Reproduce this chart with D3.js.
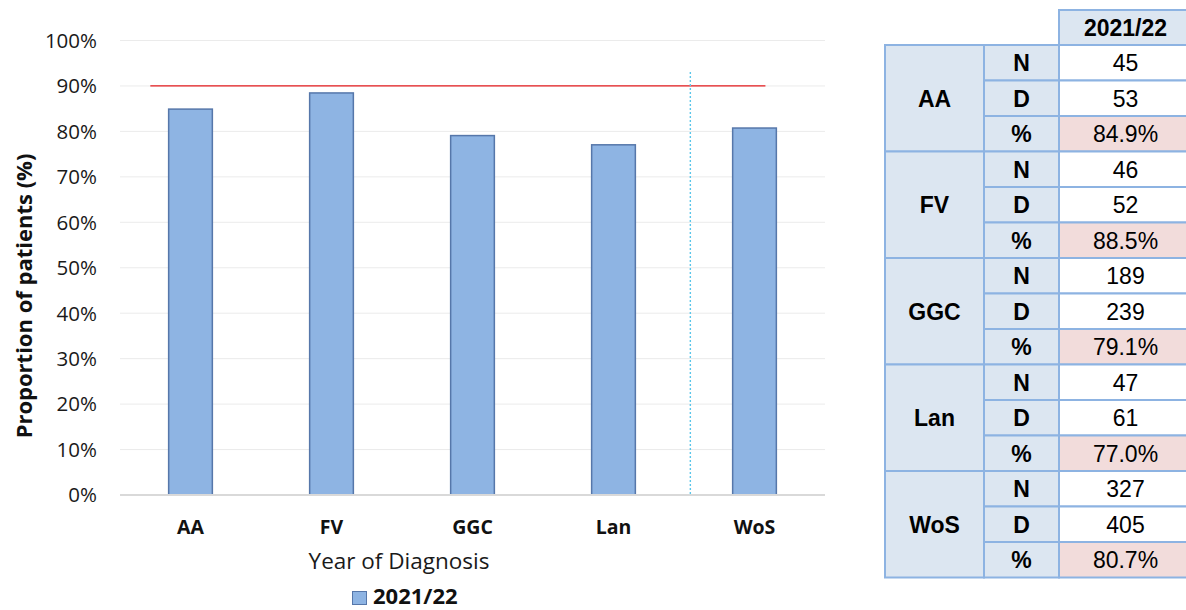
<!DOCTYPE html>
<html>
<head>
<meta charset="utf-8">
<script src="https://cdn.jsdelivr.net/npm/d3@7"></script>
<style>
  html, body { margin: 0; padding: 0; background: #fff; }
  svg { display: block; }
</style>
</head>
<body>
<svg id="chart" width="1186" height="610"></svg>
<script>
// Health boards and their numerator / denominator counts for 2021/22
const boards = ["AA", "FV", "GGC", "Lan", "WoS"];
const numerators = [45, 46, 189, 47, 327];
const denominators = [53, 52, 239, 61, 405];
const seriesName = "2021/22";
const target = 0.9;
const yTicks = [0, 0.1, 0.2, 0.3, 0.4, 0.5, 0.6, 0.7, 0.8, 0.9, 1.0];

const proportions = numerators.map((n, i) => n / denominators[i]);

const svg = d3.select("#chart");
const chartFont = "'Open Sans', sans-serif";
const tableFont = "'Liberation Sans', Arial, sans-serif";

// ---- bar chart ----
const x = d3.scaleBand().domain(boards).range([120, 825]).paddingInner(0.69).paddingOuter(0.345);
const y = d3.scaleLinear().domain([0, 1]).range([495, 40.5]);

// gridlines
svg.append("g").selectAll("line").data(yTicks.filter(t => t > 0)).join("line")
  .attr("x1", 120).attr("x2", 825)
  .attr("y1", d => y(d)).attr("y2", d => y(d))
  .attr("stroke", "#ebebeb").attr("stroke-width", 1);

// y tick labels
svg.append("g").selectAll("text").data(yTicks).join("text")
  .attr("x", 97).attr("y", d => y(d)).attr("dy", "0.36em")
  .attr("text-anchor", "end")
  .attr("font-family", chartFont).attr("font-size", 20.5).attr("fill", "#1a1a1a")
  .text(d => d3.format(".0%")(d));

// bars
svg.append("g").selectAll("rect").data(boards).join("rect")
  .attr("x", d => x(d)).attr("width", x.bandwidth())
  .attr("y", (d, i) => y(proportions[i]))
  .attr("height", (d, i) => y(0) - y(proportions[i]))
  .attr("fill", "#8eb4e3").attr("stroke", "#5677aa").attr("stroke-width", 1.5);

// baseline
svg.append("line")
  .attr("x1", 120).attr("x2", 825).attr("y1", y(0)).attr("y2", y(0))
  .attr("stroke", "#d9d9d9").attr("stroke-width", 2);

// target line
const step = x.step();
svg.append("line")
  .attr("x1", x(boards[0]) - step * 0.13).attr("x2", x(boards[4]) + x.bandwidth() * 0.75)
  .attr("y1", y(target)).attr("y2", y(target))
  .attr("stroke", "#e41a1c").attr("stroke-width", 1.3);

// separator between boards and the regional total
const sepX = x(boards[4]) - step * 0.3;
svg.append("line")
  .attr("x1", sepX).attr("x2", sepX).attr("y1", 72).attr("y2", y(0))
  .attr("stroke", "#5bc6ea").attr("stroke-width", 1.4).attr("stroke-dasharray", "2,2");

// category labels
svg.append("g").selectAll("text").data(boards).join("text")
  .attr("x", d => x(d) + x.bandwidth() / 2).attr("y", 534)
  .attr("text-anchor", "middle")
  .attr("font-family", chartFont).attr("font-size", 19.5).attr("font-weight", "bold").attr("fill", "#111")
  .text(d => d);

// axis titles
svg.append("text")
  .attr("transform", "translate(32,296) rotate(-90)")
  .attr("text-anchor", "middle")
  .attr("font-family", chartFont).attr("font-size", 22).attr("font-weight", "bold").attr("fill", "#111")
  .text("Proportion of patients (%)");

svg.append("text")
  .attr("x", 399).attr("y", 569).attr("text-anchor", "middle")
  .attr("font-family", chartFont).attr("font-size", 22.5).attr("fill", "#1a1a1a")
  .text("Year of Diagnosis");

// legend
svg.append("rect")
  .attr("x", 352.5).attr("y", 591.5).attr("width", 14).attr("height", 13)
  .attr("fill", "#8eb4e3").attr("stroke", "#5677aa").attr("stroke-width", 1);
svg.append("text")
  .attr("x", 373).attr("y", 604)
  .attr("font-family", chartFont).attr("font-size", 22).attr("font-weight", "bold").attr("fill", "#111")
  .text(seriesName);

// ---- data table ----
const colX = [885, 984, 1059, 1200];
const valueCx = 1125.5;
const headerTop = 10, rowTop = 45, rowH = 35.5;
const border = "#8db3e2", headFill = "#dce6f1", pctFill = "#f2dcdb";

const rows = [];
boards.forEach((b, i) => {
  rows.push({ board: b, kind: "N", value: String(numerators[i]) });
  rows.push({ board: b, kind: "D", value: String(denominators[i]) });
  rows.push({ board: b, kind: "%", value: d3.format(".1%")(proportions[i]) });
});

const table = svg.append("g");
const cellText = sel => sel
  .attr("text-anchor", "middle").attr("dy", "0.36em")
  .attr("font-family", tableFont).attr("font-size", 23).attr("fill", "#000");

// header cell
table.append("rect")
  .attr("x", colX[2]).attr("y", headerTop).attr("width", colX[3] - colX[2]).attr("height", rowTop - headerTop)
  .attr("fill", headFill).attr("stroke", border).attr("stroke-width", 2);
table.append("text")
  .attr("x", valueCx).attr("y", (headerTop + rowTop) / 2)
  .call(cellText).attr("font-weight", "bold")
  .text(seriesName);

// board cells (spanning three rows)
table.append("g").selectAll("rect").data(boards).join("rect")
  .attr("x", colX[0]).attr("y", (d, i) => rowTop + i * 3 * rowH)
  .attr("width", colX[1] - colX[0]).attr("height", 3 * rowH)
  .attr("fill", headFill).attr("stroke", border).attr("stroke-width", 2);
table.append("g").selectAll("text").data(boards).join("text")
  .attr("x", (colX[0] + colX[1]) / 2).attr("y", (d, i) => rowTop + (i * 3 + 1.5) * rowH)
  .call(cellText).attr("font-weight", "bold")
  .text(d => d);

// measure cells
table.append("g").selectAll("rect").data(rows).join("rect")
  .attr("x", colX[1]).attr("y", (d, i) => rowTop + i * rowH)
  .attr("width", colX[2] - colX[1]).attr("height", rowH)
  .attr("fill", headFill).attr("stroke", border).attr("stroke-width", 2);
table.append("g").selectAll("text").data(rows).join("text")
  .attr("x", (colX[1] + colX[2]) / 2).attr("y", (d, i) => rowTop + (i + 0.5) * rowH)
  .call(cellText).attr("font-weight", "bold")
  .text(d => d.kind);

// value cells
table.append("g").selectAll("rect").data(rows).join("rect")
  .attr("x", colX[2]).attr("y", (d, i) => rowTop + i * rowH)
  .attr("width", colX[3] - colX[2]).attr("height", rowH)
  .attr("fill", d => d.kind === "%" ? pctFill : "#fff").attr("stroke", border).attr("stroke-width", 2);
table.append("g").selectAll("text").data(rows).join("text")
  .attr("x", valueCx).attr("y", (d, i) => rowTop + (i + 0.5) * rowH)
  .call(cellText)
  .text(d => d.value);
</script>
</body>
</html>
